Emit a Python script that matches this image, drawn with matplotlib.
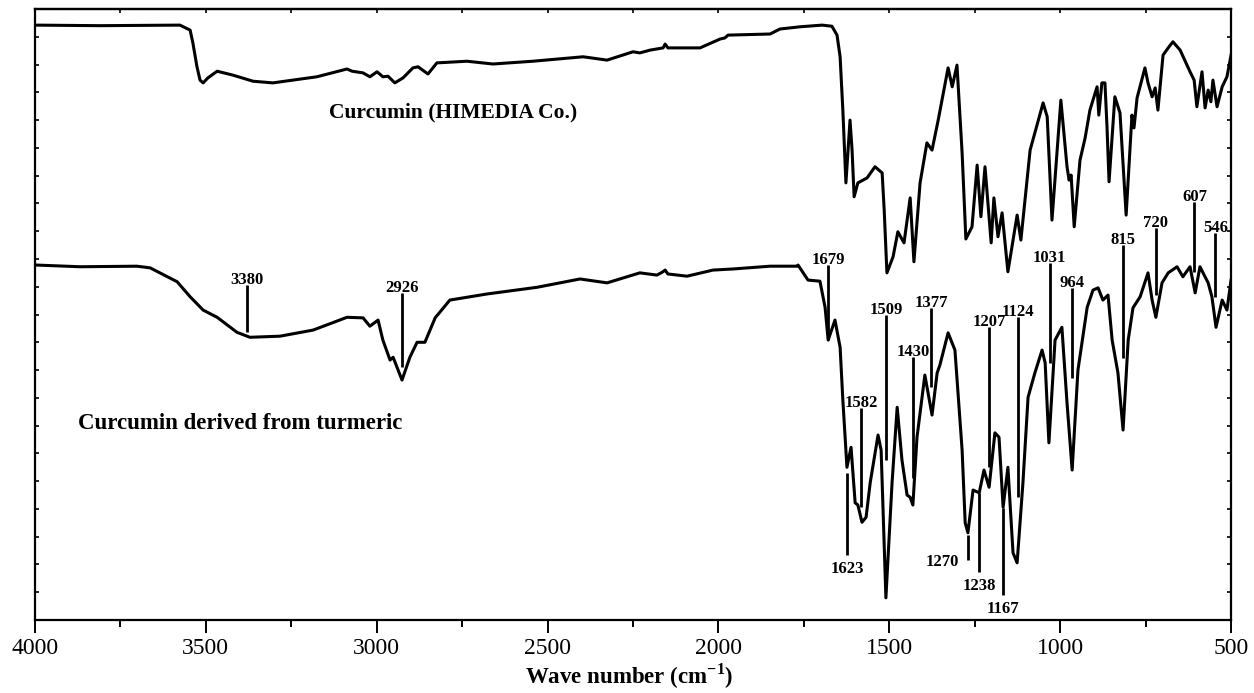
import matplotlib.pyplot as plt
import numpy as np

plt.rcParams['font.family'] = ['Liberation Serif', 'DejaVu Serif']
plt.rcParams['mathtext.fontset'] = 'custom'
plt.rcParams['mathtext.rm'] = 'Liberation Serif'
plt.rcParams['mathtext.bf'] = 'Liberation Serif:bold'

# Curcumin (HIMEDIA Co.) - upper trace
himedia_wn = [4000, 3810, 3576, 3546, 3538, 3526, 3517, 3508, 3494, 3467, 3421, 3362, 3304,
              3175, 3087, 3072, 3040, 3020, 2999, 2982, 2967, 2947, 2923, 2894, 2879, 2850,
              2824, 2736, 2660, 2543, 2396, 2326, 2250, 2230, 2200, 2162, 2156, 2148, 2121,
              2054, 1995, 1981, 1972, 1849, 1820, 1761, 1697, 1668, 1653, 1644, 1636, 1627,
              1615, 1609, 1603, 1592, 1565, 1542, 1521, 1515, 1507, 1489, 1475, 1457, 1439,
              1428, 1410, 1390, 1375, 1357, 1328, 1316, 1302, 1287, 1276, 1258, 1243, 1232,
              1220, 1202, 1194, 1182, 1170, 1153, 1126, 1115, 1088, 1050, 1038, 1024, 998,
              980, 974, 968, 959, 942, 927, 913, 892, 887, 878, 869, 863, 857, 840, 825, 807,
              790, 784, 775, 752, 743, 731, 722, 714, 699, 684, 670, 649, 620, 608, 600, 585,
              576, 567, 559, 553, 541, 526, 512, 503, 500]
himedia_t = [107.1, 107.0, 107.1, 106.2, 103.9, 99.6, 97.2, 96.7, 97.6, 98.8, 98.1, 97.0, 96.7,
             97.8, 99.2, 98.8, 98.5, 97.8, 98.7, 97.8, 97.9, 96.7, 97.6, 99.4, 99.6, 98.3,
             100.3, 100.6, 100.1, 100.6, 101.4, 100.8, 102.3, 102.1, 102.6, 103.0, 103.7, 103.0, 103.0,
             103.0, 104.6, 104.8, 105.3, 105.5, 106.4, 106.8, 107.1, 106.9, 105.3, 101.4, 91.8, 78.7,
             90.0, 84.6, 76.2, 78.7, 79.6, 81.6, 80.5, 73.8, 62.5, 65.4, 69.9, 67.9, 76.0,
             64.5, 78.7, 85.9, 84.6, 90.0, 99.4, 96.0, 99.9, 84.1, 68.6, 70.8, 81.9, 72.6,
             81.6, 67.9, 76.0, 69.0, 73.3, 62.7, 72.9, 68.4, 84.6, 93.1, 90.6, 72.0, 93.6,
             81.6, 79.2, 80.1, 70.8, 82.8, 86.8, 91.8, 96.0, 90.9, 96.7, 96.7, 88.8, 78.9, 94.2, 91.3, 72.9,
             90.9, 88.6, 94.0, 99.4, 96.7, 94.2, 95.8, 91.8, 101.7, 103.0, 104.1, 102.6, 98.7, 97.2, 92.4, 98.7,
             92.2, 95.4, 93.3, 97.2, 92.4, 96.0, 97.8, 100.8, 101.7]

# Curcumin derived from turmeric - lower trace
turmeric_wn = [3994, 3868, 3702, 3663, 3584, 3546, 3508, 3467, 3409, 3371, 3283, 3186, 3087,
               3040, 3020, 2996, 2982, 2961, 2952, 2926, 2903, 2882, 2859, 2844, 2829, 2786,
               2677, 2531, 2405, 2326, 2230, 2180, 2165, 2156, 2148, 2092, 2016, 1957, 1849,
               1770, 1767, 1738, 1703, 1688, 1679, 1659, 1644, 1636, 1624, 1612, 1600, 1592,
               1580, 1568, 1556, 1533, 1524, 1510, 1492, 1477, 1463, 1448, 1439, 1431, 1419,
               1396, 1375, 1360, 1352, 1328, 1308, 1287, 1278, 1270, 1255, 1237, 1223, 1208,
               1191, 1179, 1167, 1153, 1138, 1126, 1109, 1094, 1074, 1053, 1044, 1033, 1015,
               995, 980, 965, 948, 921, 904, 889, 875, 860, 848, 831, 816, 801, 787, 766, 743,
               731, 720, 702, 684, 658, 641, 620, 605, 591, 567, 556, 544, 526, 512, 500]
turmeric_t = [63.9, 63.6, 63.7, 63.4, 60.9, 58.2, 55.8, 54.5, 51.8, 50.9, 51.1, 52.2, 54.5,
              54.4, 52.9, 54.0, 50.4, 46.8, 47.3, 43.2, 47.3, 50.0, 50.0, 52.2, 54.4, 57.6,
              58.7, 59.9, 61.4, 60.7, 62.5, 62.1, 62.6, 63.0, 62.3, 61.9, 63.0, 63.2, 63.7,
              63.7, 63.9, 61.2, 61.0, 56.3, 50.4, 54.0, 49.1, 39.6, 27.5, 31.1, 21.1, 20.7,
              17.6, 18.5, 24.7, 33.3, 30.6, 4.0, 24.7, 38.3, 28.8, 22.5, 22.1, 20.7, 32.9,
              44.1, 36.9, 44.5, 45.9, 51.7, 48.6, 30.6, 17.5, 15.7, 23.4, 22.9, 27.0, 23.9,
              33.7, 32.9, 20.3, 27.5, 12.1, 10.3, 24.7, 40.1, 44.5, 48.6, 46.3, 31.9, 50.4,
              52.7, 39.1, 27.0, 45.0, 56.3, 59.4, 59.8, 57.6, 58.5, 50.4, 44.5, 34.2, 50.4, 56.2, 58.2, 62.5,
              57.6, 54.5, 60.7, 62.5, 63.6, 61.8, 63.6, 58.9, 63.6, 60.7, 58.2, 52.7, 57.6, 55.8, 61.2]

# marked bands on the lower trace
peak_wn = [3380, 2926, 1679, 1623, 1582, 1509, 1430, 1377, 1270, 1238,
           1207, 1167, 1124, 1031, 964, 815, 720, 607, 546]
peak_hi = [60.3, 58.9, 63.9, 26.5, 38.2, 54.9, 47.3, 56.2, 15.3, 22.9,
           52.7, 20.2, 54.5, 64.3, 59.8, 67.5, 70.6, 75.2, 69.7]
peak_lo = [51.8, 45.5, 50.4, 11.7, 20.3, 28.8, 25.6, 41.9, 10.8, 8.6,
           27.5, 4.5, 22.1, 46.3, 43.6, 47.2, 58.5, 62.6, 58.1]
peak_side = ['up', 'up', 'up', 'down', 'up', 'up', 'up', 'up', 'left', 'down',
             'up', 'down', 'up', 'up', 'up', 'up', 'up', 'up', 'up']

fig = plt.figure(figsize=(12.54, 6.93), dpi=100)
ax = fig.add_axes([0.0279, 0.1053, 0.9538, 0.8817])

ax.plot(himedia_wn, himedia_t, color='black', lw=2.2, solid_joinstyle='round')
ax.plot(turmeric_wn, turmeric_t, color='black', lw=2.2, solid_joinstyle='round')

for wn, hi, lo, side in zip(peak_wn, peak_hi, peak_lo, peak_side):
    ax.vlines(wn, lo, hi, color='black', lw=2)
    if side == 'up':
        ax.annotate(str(wn), (wn, hi), xytext=(0, -3), textcoords='offset pixels',
                    ha='center', va='bottom', fontsize=12, fontweight='bold')
    elif side == 'down':
        ax.annotate(str(wn), (wn, lo), xytext=(0, -6), textcoords='offset pixels',
                    ha='center', va='top', fontsize=12, fontweight='bold')
    else:
        ax.annotate(str(wn), (wn, lo), xytext=(-26, -2), textcoords='offset pixels',
                    ha='center', va='center', fontsize=12, fontweight='bold')

ax.text(2777, 91.3, 'Curcumin (HIMEDIA Co.)', ha='center', va='center',
        fontsize=15.5, fontweight='bold')
ax.text(3400, 35.3, 'Curcumin derived from turmeric', ha='center', va='center',
        fontsize=16.5, fontweight='bold')

ax.set_xlim(4000, 500)
ax.set_ylim(0, 110)
major = np.arange(4000, 499, -500)
minor = np.arange(3750, 500, -500)
ax.set_xticks(major)
ax.set_xticks(minor, minor=True)
ax.set_yticks(np.arange(0, 111, 5))
ax.tick_params(axis='x', which='major', direction='out', length=9.5, width=1.4,
               labelsize=17, pad=3.5)
ax.tick_params(axis='x', which='minor', direction='out', length=5, width=1.4)
ax.tick_params(axis='y', direction='in', length=3, width=1.2, left=True, right=True,
               labelleft=False)
for s in ax.spines.values():
    s.set_linewidth(1.6)

top = ax.secondary_xaxis('top')
top.set_xticks(np.arange(4000, 499, -250))
top.tick_params(direction='in', length=3, width=1.2, labeltop=False)
top.spines['top'].set_linewidth(1.6)

ax.set_xlabel(r'Wave number (cm$^{\mathbf{-1}}$)', fontsize=16.5, fontweight='bold')
ax.xaxis.set_label_coords(0.497, -0.068)

fig.savefig('out.png', dpi=100)
